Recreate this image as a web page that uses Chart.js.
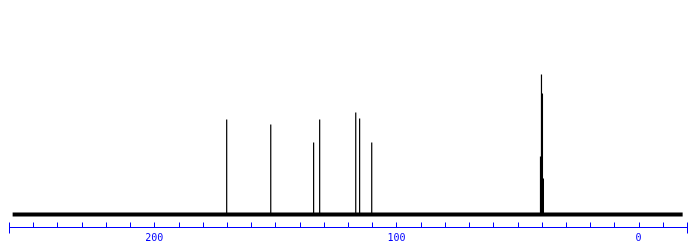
<!DOCTYPE html>
<html>
<head>
<meta charset="utf-8">
<script src="https://cdn.jsdelivr.net/npm/chart.js@4.4.0/dist/chart.umd.min.js"></script>
<style>
html, body { margin: 0; padding: 0; background: #ffffff; }
#wrap { width: 697px; height: 246px; }
</style>
</head>
<body>
<div id="wrap"><canvas id="nmrChart"></canvas></div>
<script>
// 13C spectrum, values
var peakPpm = [170.1, 151.9, 134.2, 131.7, 116.8, 115.2, 110.2, 40.5, 40.1, 39.7, 39.3];
var peakHeight = [95, 90, 72, 95, 102, 96, 72, 58, 140, 121, 36];
var spectrumRange = [258.5, -18.2];
var axisRange = [-20, 260];
var tickLabels = ["200", "100", "0"];

var axisBlue = "#0000ff";

// baseline: a straight line across the recorded range
function baselineData() {
    return [{ x: spectrumRange[0], y: 0 }, { x: spectrumRange[1], y: 0 }];
}

// each peak is a stem going up from the baseline and back down
function peakData() {
    var i, pts = [];
    for (i = 0; i < peakPpm.length; i++) {
        pts.push({ x: peakPpm[i], y: 0 });
        pts.push({ x: peakPpm[i], y: peakHeight[i] });
        pts.push({ x: peakPpm[i], y: 0 });
    }
    return pts;
}

// the tick marks point up from the axis line, end ticks cross it
var tickMarks = {
    id: "tickMarks",
    afterDraw: function (chart) {
        var ctx = chart.ctx;
        var xs = chart.scales.x;
        var y = Math.round(chart.chartArea.bottom) + 0.5;
        ctx.save();
        ctx.strokeStyle = axisBlue;
        ctx.lineWidth = 1;
        xs.ticks.forEach(function (t, i) {
            var px = Math.round(xs.getPixelForValue(t.value)) + 0.5;
            var end = (i === 0 || i === xs.ticks.length - 1);
            ctx.beginPath();
            ctx.moveTo(px, y - 5);
            ctx.lineTo(px, end ? y + 6 : y);
            ctx.stroke();
        });
        ctx.restore();
    }
};

var ctx = document.getElementById("nmrChart").getContext("2d");
var nmrChart = new Chart(ctx, {
    type: "scatter",
    data: {
        datasets: [{
            label: "Baseline",
            data: baselineData(),
            showLine: true,
            borderColor: "#000000",
            borderWidth: 4,
            pointRadius: 0
        },
        {
            label: "Peaks",
            data: peakData(),
            showLine: true,
            borderColor: "#000000",
            borderWidth: 1.2,
            pointRadius: 0
        }
        ]
    },
    options: {
        responsive: true,
        maintainAspectRatio: false,
        animation: false,
        layout: { padding: { left: 9, right: 10, top: 0, bottom: 2 } },
        plugins: {
            legend: { display: false },
            tooltip: { enabled: false }
        },
        scales: {
            x: {
                type: "linear",
                reverse: true,
                min: axisRange[0],
                max: axisRange[1],
                afterFit: function (scale) { scale.height = 17; },
                grid: { display: false, drawTicks: false, tickLength: 0 },
                border: { display: true, color: axisBlue, width: 1 },
                ticks: {
                    stepSize: 10,
                    autoSkip: false,
                    maxRotation: 0,
                    padding: 5,
                    color: axisBlue,
                    font: { family: "DejaVu Sans Mono", size: 10 },
                    callback: function (value) {
                        return tickLabels.indexOf(String(value)) >= 0 ? String(value) : "";
                    }
                }
            },
            y: {
                display: false,
                min: -12.5,
                max: 214.5
            }
        }
    },
    plugins: [tickMarks]
});
</script>
</body>
</html>
